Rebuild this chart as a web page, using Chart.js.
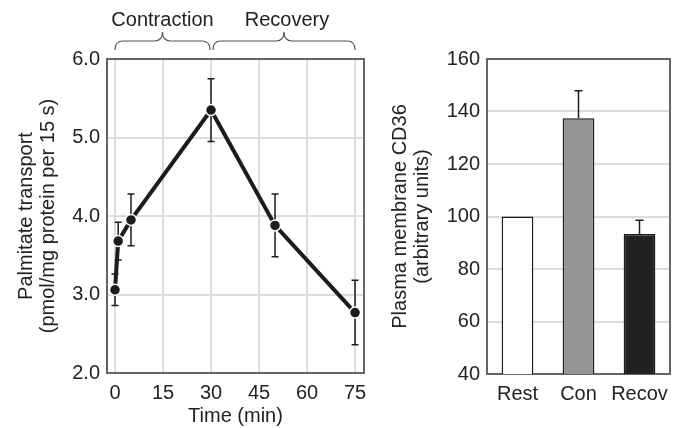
<!DOCTYPE html>
<html>
<head>
<meta charset="utf-8">
<script src="https://cdn.jsdelivr.net/npm/chart.js@4"></script>
<style>
    html, body { margin: 0; padding: 0; background: #fff; }
    #wrap { position: relative; width: 679px; height: 428px; }
    #left { position: absolute; left: 0; top: 0; width: 380px; height: 428px; }
    #right { position: absolute; left: 380px; top: 0; width: 299px; height: 428px; }
</style>
</head>
<body>
<div id="wrap">
    <div id="left"><canvas id="lineChart"></canvas></div>
    <div id="right"><canvas id="barChart"></canvas></div>
</div>
<script>
// left panel: palmitate transport over time
const times = [0, 1, 5, 30, 50, 75];
const transport = [3.06, 3.68, 3.95, 5.35, 3.88, 2.77];
const transportErr = [0.2, 0.24, 0.33, 0.4, 0.4, 0.41];
const timeTicks = [0, 15, 30, 45, 60, 75];
const transportTicks = [2, 3, 4, 5, 6];
const phases = ['Contraction', 'Recovery'];
const phaseBounds = [[0, 30], [30, 75]];

// right panel: plasma membrane CD36
const groups = ['Rest', 'Con', 'Recov'];
const cd36 = [100, 137.4, 93.3];
const cd36Err = [0, 10.5, 5.3];
const cd36Ticks = [40, 60, 80, 100, 120, 140, 160];
const barColors = ['#ffffff', '#959595', '#222222'];

Chart.defaults.font.family = '"Liberation Sans", Arial, Helvetica, sans-serif';
Chart.defaults.font.size = 20;
Chart.defaults.color = '#222';

// frame round the plot area (all four sides)
const frame = {
    id: 'frame',
    beforeDatasetsDraw(chart) {
        const { ctx, chartArea: a } = chart;
        ctx.save();
        ctx.strokeStyle = '#666';
        ctx.lineWidth = 2;
        ctx.strokeRect(a.left, a.top, a.right - a.left, a.bottom - a.top);
        ctx.restore();
    }
};

// two sided error bars for the time course
const lineErrors = {
    id: 'lineErrors',
    beforeDatasetsDraw(chart) {
        const { ctx, scales: { x, y } } = chart;
        ctx.save();
        ctx.strokeStyle = '#1c1c1c';
        ctx.lineWidth = 1.5;
        times.forEach((t, i) => {
            const px = x.getPixelForValue(t);
            const top = y.getPixelForValue(transport[i] + transportErr[i]);
            const bot = y.getPixelForValue(transport[i] - transportErr[i]);
            ctx.beginPath();
            ctx.moveTo(px, top); ctx.lineTo(px, bot);
            ctx.moveTo(px - 3.5, top); ctx.lineTo(px + 3.5, top);
            ctx.moveTo(px - 3.5, bot); ctx.lineTo(px + 3.5, bot);
            ctx.stroke();
        });
        ctx.restore();
    }
};

// curly braces with phase names above the left plot
const braces = {
    id: 'braces',
    afterDraw(chart) {
        const { ctx, scales: { x } } = chart;
        const yEnd = 50, yMid = 41, yTip = 32, r = 8;
        ctx.save();
        ctx.strokeStyle = '#555';
        ctx.lineWidth = 1.2;
        ctx.fillStyle = '#222';
        ctx.textAlign = 'center';
        ctx.textBaseline = 'middle';
        ctx.font = '20px "Liberation Sans", Arial, sans-serif';
        phaseBounds.forEach((b, i) => {
            const x1 = x.getPixelForValue(b[0]) + (i === 0 ? 0 : 2);
            const x2 = x.getPixelForValue(b[1]) - (i === 0 ? 1 : 0);
            const xm = (x1 + x2) / 2;
            ctx.beginPath();
            ctx.moveTo(x1, yEnd);
            ctx.quadraticCurveTo(x1, yMid, x1 + r, yMid);
            ctx.lineTo(xm - r, yMid);
            ctx.quadraticCurveTo(xm, yMid, xm, yTip);
            ctx.quadraticCurveTo(xm, yMid, xm + r, yMid);
            ctx.lineTo(x2 - r, yMid);
            ctx.quadraticCurveTo(x2, yMid, x2, yEnd);
            ctx.stroke();
            ctx.fillText(phases[i], xm + (i === 0 ? 0 : 3), 20);
        });
        ctx.restore();
    }
};

// one sided (upward) error bars for the bars
const barErrors = {
    id: 'barErrors',
    afterDatasetsDraw(chart) {
        const { ctx, scales: { x, y } } = chart;
        ctx.save();
        ctx.strokeStyle = '#1c1c1c';
        ctx.lineWidth = 1.5;
        groups.forEach((g, i) => {
            if (!cd36Err[i]) return;
            const px = x.getPixelForValue(i);
            const top = y.getPixelForValue(cd36[i] + cd36Err[i]);
            const base = y.getPixelForValue(cd36[i]);
            ctx.beginPath();
            ctx.moveTo(px, base); ctx.lineTo(px, top);
            ctx.moveTo(px - 4, top); ctx.lineTo(px + 4, top);
            ctx.stroke();
        });
        ctx.restore();
    }
};

new Chart(document.getElementById('lineChart'), {
    type: 'line',
    data: {
        datasets: [{
            data: times.map((t, i) => ({ x: t, y: transport[i] })),
            borderColor: '#1c1c1c',
            borderWidth: 4,
            tension: 0,
            pointRadius: 5.5,
            pointBackgroundColor: '#1c1c1c',
            pointBorderColor: '#ffffff',
            pointBorderWidth: 1.5
        }]
    },
    options: {
        responsive: true,
        maintainAspectRatio: false,
        animation: false,
        layout: { padding: { top: 59, right: 16, left: 0, bottom: 0 } },
        plugins: { legend: { display: false }, tooltip: { enabled: false } },
        scales: {
            x: {
                type: 'linear',
                min: -2.5,
                max: 77.8,
                afterBuildTicks: s => { s.ticks = timeTicks.map(v => ({ value: v })); },
                afterFit: s => { s.height = 55; },
                grid: { color: '#dcdcdc', lineWidth: 2, drawTicks: false },
                border: { display: false },
                ticks: { padding: 8, color: '#222', maxRotation: 0 },
                title: { display: true, text: 'Time (min)', padding: { top: 0, bottom: 0 }, color: '#222' }
            },
            y: {
                min: 2,
                max: 6,
                afterBuildTicks: s => { s.ticks = transportTicks.map(v => ({ value: v })); },
                afterFit: s => { s.width = 107; },
                grid: { color: '#dcdcdc', lineWidth: 2, drawTicks: false },
                border: { display: false },
                ticks: { padding: 7, color: '#222', callback: v => v.toFixed(1) },
                title: {
                    display: true,
                    text: ['Palmitate transport', '(pmol/mg protein per 15 s)'],
                    font: { size: 20, lineHeight: 1.1 },
                    padding: { top: 15, bottom: 0 },
                    color: '#222'
                }
            }
        }
    },
    plugins: [frame, lineErrors, braces]
});

new Chart(document.getElementById('barChart'), {
    type: 'bar',
    data: {
        labels: groups,
        datasets: [{
            data: cd36,
            backgroundColor: barColors,
            borderColor: '#1c1c1c',
            borderWidth: 1.5,
            borderSkipped: false,
            barPercentage: 0.52,
            categoryPercentage: 1
        }]
    },
    options: {
        responsive: true,
        maintainAspectRatio: false,
        animation: false,
        layout: { padding: { top: 59, right: 9, left: 0, bottom: 0 } },
        plugins: { legend: { display: false }, tooltip: { enabled: false } },
        scales: {
            x: {
                afterFit: s => { s.height = 54; },
                grid: { display: false },
                border: { display: false },
                ticks: { padding: 0, color: '#222', minRotation: 0, maxRotation: 0, autoSkip: false }
            },
            y: {
                min: 40,
                max: 160,
                afterBuildTicks: s => { s.ticks = cd36Ticks.map(v => ({ value: v })); },
                afterFit: s => { s.width = 107; },
                grid: { color: '#dcdcdc', lineWidth: 2, drawTicks: false },
                border: { display: false },
                ticks: { padding: 7, color: '#222' },
                title: {
                    display: true,
                    text: ['Plasma membrane CD36', '(arbitrary units)'],
                    font: { size: 20, lineHeight: 1.1 },
                    padding: { top: 9, bottom: 0 },
                    color: '#222'
                }
            }
        }
    },
    plugins: [frame, barErrors]
});
</script>
</body>
</html>
